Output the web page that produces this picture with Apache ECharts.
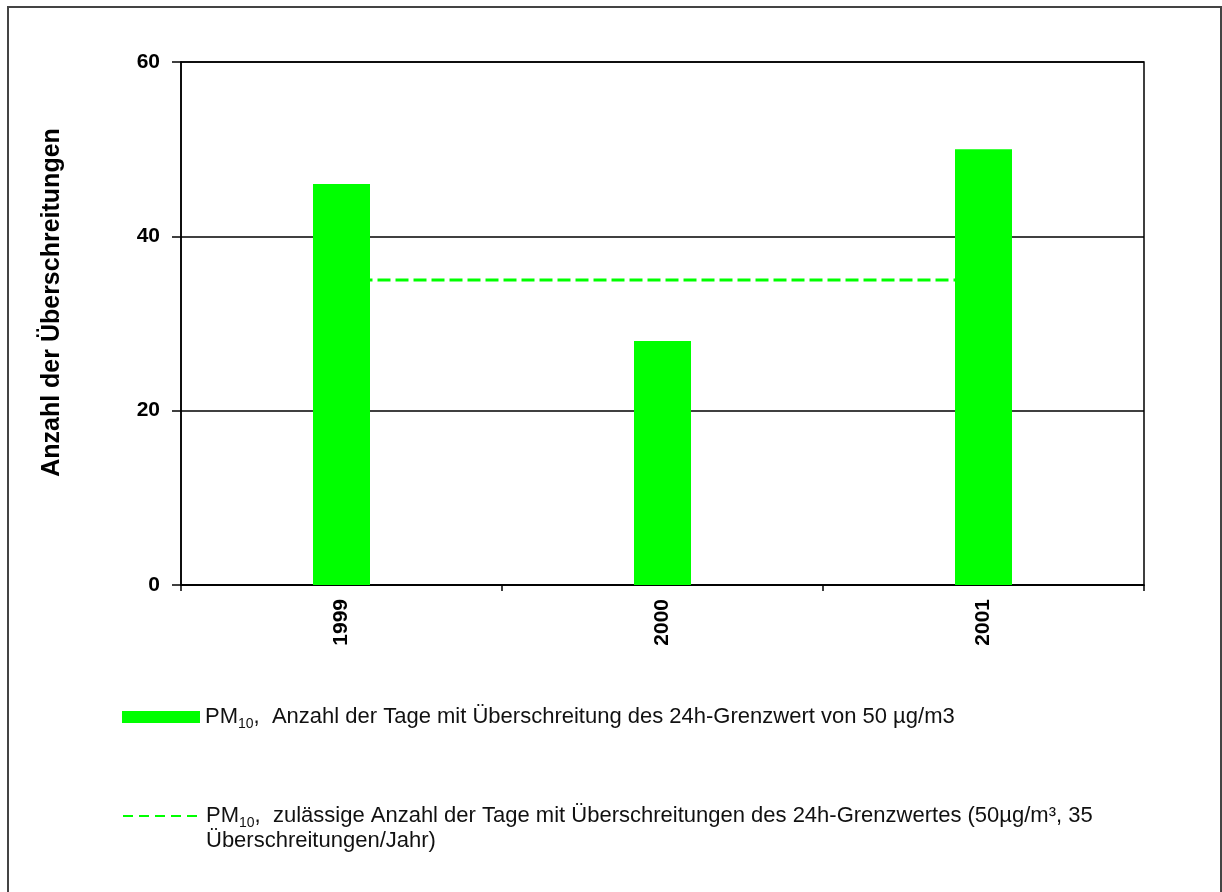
<!DOCTYPE html>
<html>
<head>
<meta charset="utf-8">
<script src="https://cdn.jsdelivr.net/npm/echarts@6/dist/echarts.min.js"></script>
<style>
html,body{margin:0;padding:0;background:#fff;}
#chart{width:1222px;height:892px;}
</style>
</head>
<body>
<div id="chart"></div>
<script>
const categories = ['1999', '2000', '2001'];
const exceedances = [46, 28, 50];
const allowedLimit = [35, 35, 35];
const yTicks = [0, 20, 40, 60];
const barName = 'PM10 Anzahl';
const lineName = 'PM10 zulässig';
const barLegendText = '{a|PM}{sub|10}{a|,  Anzahl der Tage mit Überschreitung des 24h-Grenzwert von 50 µg/m3}';
const lineLegendText = '{a|PM}{sub|10}{a|,  zulässige Anzahl der Tage mit Überschreitungen des 24h-Grenzwertes (50µg/m³, 35}\n{a|Überschreitungen/Jahr)}';

const FONT = '"Liberation Sans", Arial, sans-serif';
const richStyle = {
  a: { fontSize: 22, fontFamily: FONT, color: '#111', lineHeight: 25 },
  sub: { fontSize: 14, fontFamily: FONT, color: '#111', verticalAlign: 'bottom', lineHeight: 20, padding: [0, 0, -2, 0] }
};

const chart = echarts.init(document.getElementById('chart'), null, { renderer: 'canvas' });
chart.setOption({
  backgroundColor: '#fff',
  animation: false,
  graphic: [{
    type: 'rect',
    shape: { x: 8, y: 7, width: 1213, height: 900 },
    style: { fill: 'none', stroke: '#444', lineWidth: 2 },
    silent: true
  }],
  grid: {
    left: 181, right: 78, top: 62, bottom: 307,
    show: true, borderColor: '#000', borderWidth: 1.5, backgroundColor: 'transparent'
  },
  legend: [{
    data: [{ name: barName, icon: 'rect' }],
    left: 117, top: 701,
    itemWidth: 78, itemHeight: 12,
    formatter: function () { return barLegendText; },
    textStyle: { rich: richStyle }
  }, {
    data: [{ name: lineName, itemStyle: { opacity: 0 }, lineStyle: { type: [10, 6], width: 2, color: '#00ff00' } }],
    left: 117, top: 800,
    itemWidth: 78, itemHeight: 12,
    formatter: function () { return lineLegendText; },
    textStyle: { rich: richStyle, padding: [25, 0, 0, 0] }
  }],
  xAxis: {
    type: 'category',
    data: categories,
    axisLine: { lineStyle: { color: '#000', width: 1.5 } },
    axisTick: { show: true, length: 6, lineStyle: { color: '#000', width: 1.5 } },
    axisLabel: { rotate: 90, fontSize: 21, fontWeight: 'bold', color: '#000', fontFamily: FONT, margin: 14 },
    splitLine: { show: false }
  },
  yAxis: {
    type: 'value',
    min: yTicks[0], max: yTicks[yTicks.length - 1], interval: 20,
    name: 'Anzahl der Überschreitungen',
    nameLocation: 'middle', nameRotate: 90, nameGap: 116,
    nameTextStyle: { fontSize: 25, fontWeight: 'bold', color: '#000', fontFamily: FONT, padding: [0, 0, 0, 42] },
    axisLine: { show: true, lineStyle: { color: '#000', width: 1.5 } },
    axisTick: { show: true, length: 9, lineStyle: { color: '#000', width: 1.5 } },
    axisLabel: { fontSize: 21, fontWeight: 'bold', color: '#000', fontFamily: FONT, margin: 21 },
    splitLine: { show: true, lineStyle: { color: '#000', width: 1.5 } }
  },
  series: [{
    name: barName,
    type: 'bar',
    data: exceedances,
    barWidth: 57,
    z: 3,
    itemStyle: { color: '#00ff00' }
  }, {
    name: lineName,
    type: 'line',
    data: allowedLimit,
    symbol: 'none',
    z: 2,
    itemStyle: { color: '#00ff00' },
    lineStyle: { color: '#00ff00', width: 3, type: [13, 5] }
  }]
});
</script>
</body>
</html>
